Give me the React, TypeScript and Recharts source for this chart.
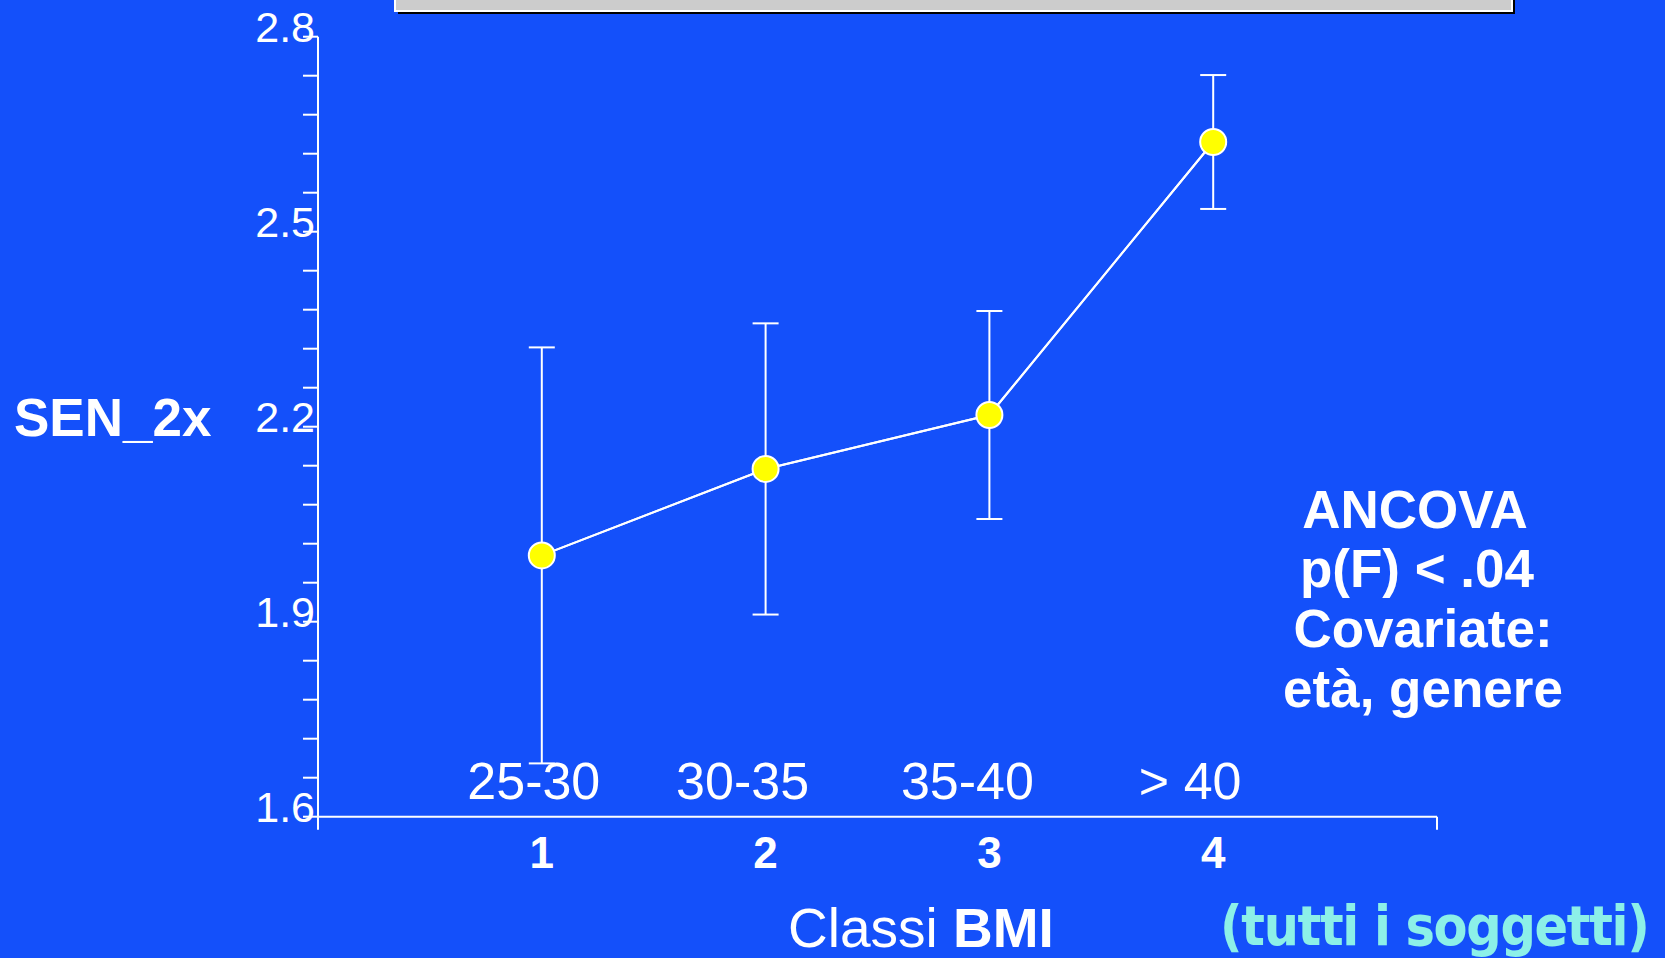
import React from 'react';
import { LineChart, Line, XAxis, YAxis, ErrorBar } from 'recharts';

const classNumbers = [1, 2, 3, 4];
const classLabels = ['25-30', '30-35', '35-40', '> 40'];
const meanValues = [2.002, 2.135, 2.218, 2.638];
const errorValues = [0.32, 0.224, 0.16, 0.103];
const yTicks = [1.6, 1.66, 1.72, 1.78, 1.84, 1.9, 1.96, 2.02, 2.08, 2.14, 2.2, 2.26, 2.32, 2.38, 2.44, 2.5, 2.56, 2.62, 2.68, 2.74, 2.8];
const yLabeledTicks = [1.6, 1.9, 2.2, 2.5, 2.8];
const xTicks = [0, 1, 2, 3, 4, 5];
const annotationLines = ['ANCOVA', 'p(F) < .04', 'Covariate:', 'età, genere'];

const data = classNumbers.map((n, i) => ({
  x: n,
  label: classLabels[i],
  mean: meanValues[i],
  err: errorValues[i],
}));

const BG = '#1450FA';
const ARIAL = '"Liberation Sans", Arial, sans-serif';
const labelDx = [-8, -23, -22, -23];

const YTick = (props: any) => {
  const { x, y, payload } = props;
  const v = payload.value;
  const show = yLabeledTicks.some((t) => Math.abs(t - v) < 1e-6);
  if (!show) return <g />;
  return (
    <text x={x + 12} y={y - 10} textAnchor="end" dominantBaseline="central" fill="#ffffff" fontFamily={ARIAL} fontSize={43}>
      {v.toFixed(1)}
    </text>
  );
};

const XTick = (props: any) => {
  const { x, y, payload } = props;
  const v = payload.value;
  const idx = classNumbers.indexOf(v);
  if (idx < 0) {
    return <line x1={x} y1={y} x2={x} y2={y + 13} stroke="#ffffff" strokeWidth={2} />;
  }
  return (
    <g>
      <text x={x + labelDx[idx]} y={y - 36} textAnchor="middle" dominantBaseline="central" fill="#ffffff" fontFamily={ARIAL} fontSize={52}>
        {classLabels[idx]}
      </text>
      <text x={x} y={y + 36} textAnchor="middle" dominantBaseline="central" fill="#ffffff" fontFamily={ARIAL} fontWeight="bold" fontSize={44}>
        {String(v)}
      </text>
    </g>
  );
};

const annX = [1415, 1417, 1423, 1423];
const annY = [528, 587, 647, 707];

export default function App() {
  return (
    <div style={{ position: 'absolute', left: 0, top: 0, width: 1665, height: 958, background: BG, overflow: 'hidden' }}>
      <LineChart
        width={1665}
        height={958}
        data={data}
        margin={{ top: 36.7, right: 228, bottom: 81.3, left: 258 }}
      >
        <XAxis
          dataKey="x"
          type="number"
          domain={[0, 5]}
          ticks={xTicks}
          interval={0}
          height={60}
          axisLine={{ stroke: '#ffffff', strokeWidth: 2 }}
          tickLine={false}
          tickSize={0}
          tickMargin={0}
          tick={<XTick />}
          allowDataOverflow
        />
        <YAxis
          type="number"
          domain={[1.6, 2.8]}
          ticks={yTicks}
          interval={0}
          width={60}
          axisLine={{ stroke: '#ffffff', strokeWidth: 2 }}
          tickLine={{ stroke: '#ffffff', strokeWidth: 2 }}
          tickSize={15}
          tickMargin={0}
          tick={<YTick />}
          allowDataOverflow
        />
        <Line
          dataKey="mean"
          stroke="#ffffff"
          strokeWidth={2}
          isAnimationActive={false}
          dot={{ r: 13, fill: '#FFFF00', stroke: '#ffffff', strokeWidth: 2 }}
          activeDot={false}
        >
          <ErrorBar dataKey="err" direction="y" width={13} stroke="#ffffff" strokeWidth={2} isAnimationActive={false} />
        </Line>
        <Line
          dataKey="mean"
          stroke="#ffffff"
          strokeWidth={2}
          isAnimationActive={false}
          dot={false}
          activeDot={false}
        />
      </LineChart>
      <svg width={1665} height={958} style={{ position: 'absolute', left: 0, top: 0, pointerEvents: 'none' }}>
        <rect x={398} y={-2} width={1117} height={16} fill="#000000" />
        <rect x={394} y={-2} width={1119} height={14} fill="#ffffff" />
        <rect x={396} y={-2} width={1115} height={12} fill="#CCCCCC" />
        <text x={14} y={435.5} fill="#ffffff" fontFamily={ARIAL} fontWeight="bold" fontSize={53}>
          SEN_2x
        </text>
        {annotationLines.map((t, i) => (
          <text key={t} x={annX[i]} y={annY[i]} textAnchor="middle" fill="#ffffff" fontFamily={ARIAL} fontWeight="bold" fontSize={53}>
            {t}
          </text>
        ))}
        <text x={788} y={947} fill="#ffffff" fontFamily={ARIAL} fontSize={55}>
          Classi <tspan fontWeight="bold">BMI</tspan>
        </text>
        <text x={1220} y={945} fill="#8CF0E8" fontFamily='"DejaVu Sans Condensed", "DejaVu Sans", sans-serif' fontStretch="condensed" fontWeight="bold" fontSize={55} letterSpacing={-1.3}>
          (tutti i soggetti)
        </text>
      </svg>
    </div>
  );
}
